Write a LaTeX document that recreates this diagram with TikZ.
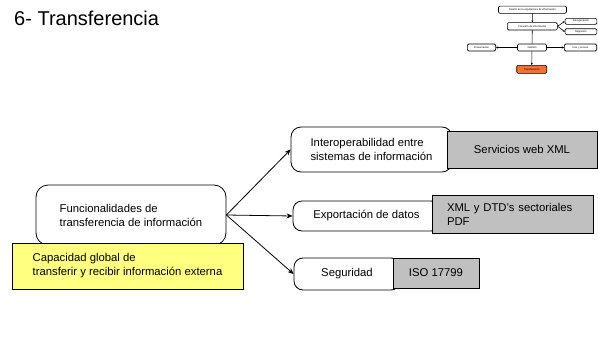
\documentclass[tikz,border=0pt]{standalone}
\usepackage{fontspec}
\setmainfont{Liberation Sans}
\usetikzlibrary{arrows.meta}
\definecolor{grayfill}{RGB}{192,192,192}
\definecolor{yellowfill}{RGB}{255,255,128}
\definecolor{orangefill}{RGB}{250,110,50}
\tikzset{
  rbox/.style={draw, line width=0.8pt, rounded corners=10pt, fill=white, inner sep=0pt, align=left, font=\fontsize{11.3}{14}\selectfont},
  gbox/.style={draw, line width=0.8pt, fill=grayfill, inner sep=0pt, align=left, font=\fontsize{11.3}{14}\selectfont},
  ybox/.style={draw, line width=0.8pt, fill=yellowfill, inner sep=0pt, align=left, font=\fontsize{11.3}{14}\selectfont},
  conn/.style={line width=0.8pt, -{Stealth[length=6pt,width=5pt]}},
  mbox/.style={draw, line width=0.6pt, rounded corners=1.3pt, fill=white, inner sep=0pt, font=\fontsize{2.6}{3}\selectfont},
  mconn/.style={line width=0.6pt, -{Stealth[length=2pt,width=2pt]}},
}
\begin{document}
\begin{tikzpicture}[x=1pt,y=-1pt]
\useasboundingbox (0,0) rectangle (598,343);
% title
\node[anchor=base west, inner sep=0pt, font=\fontsize{20}{24}\selectfont] (title) at (14,25) {6- Transferencia};

% mini diagram
\node[mbox, minimum width=68pt, minimum height=7.3pt] (m1) at (532.5,9.7) {Diseño de la arquitectura de información};
\node[mbox, minimum width=50pt, minimum height=7.3pt] (m2) at (532.3,26.3) {Creación de información};
\node[mbox, minimum width=31.7pt, minimum height=6pt] (m3) at (581,21.3) {Recuperación};
\node[mbox, minimum width=31.7pt, minimum height=6pt] (m4) at (581,31.7) {Migración};
\node[mbox, minimum width=28.4pt, minimum height=7pt] (m5) at (481.5,47.5) {Preservación};
\node[mbox, minimum width=29pt, minimum height=7pt] (m6) at (532,47.5) {Gestión};
\node[mbox, minimum width=32.4pt, minimum height=7pt] (m7) at (580.5,47.5) {Uso y acceso};
\node[mbox, fill=orangefill, minimum width=30pt, minimum height=8pt] (m8) at (531.7,69.3) {Transferencia};
\draw[mconn] (m1) -- (m2);
\draw[mconn] (m2.east) -- (m3.west);
\draw[mconn] (m2.east) -- (m4.west);
\draw[line width=0.6pt] (m2) -- (m6);
\draw[mconn] (m6) -- (m5);
\draw[mconn] (m6) -- (m7);
\draw[mconn] (m6) -- (m8);

% main diagram
\node[rbox, rounded corners=12pt, minimum width=190pt, minimum height=60pt] (fun) at (131,215) {Funcionalidades de\\transferencia de información};
\node[ybox, minimum width=231pt, minimum height=46pt] (cap) at (127.5,266) {Capacidad global de\\transferir y recibir información externa};

\node[rbox, minimum width=161pt, minimum height=45pt] (inter) at (371.5,149.5) {Interoperabilidad entre\\sistemas de información};
\node[gbox, minimum width=150pt, minimum height=37pt] (serv) at (522,149.5) {Servicios web XML};

\node[rbox, rounded corners=9pt, minimum width=147pt, minimum height=30pt] (expo) at (366.5,216) {Exportación de datos};
\node[gbox, minimum width=161pt, minimum height=38pt, text width=131pt, inner xsep=15pt] (xml) at (512.5,214) {XML y DTD's sectoriales\\PDF};

\node[rbox, rounded corners=9pt, minimum width=106pt, minimum height=32pt] (seg) at (347,274) {Seguridad};
\node[gbox, minimum width=86pt, minimum height=30pt] (iso) at (436,273) {ISO 17799};

\draw[conn] (fun.east) -- (inter.west);
\draw[conn] (fun.east) -- (expo.west);
\draw[conn] (fun.east) -- (seg.west);
\end{tikzpicture}
\end{document}
